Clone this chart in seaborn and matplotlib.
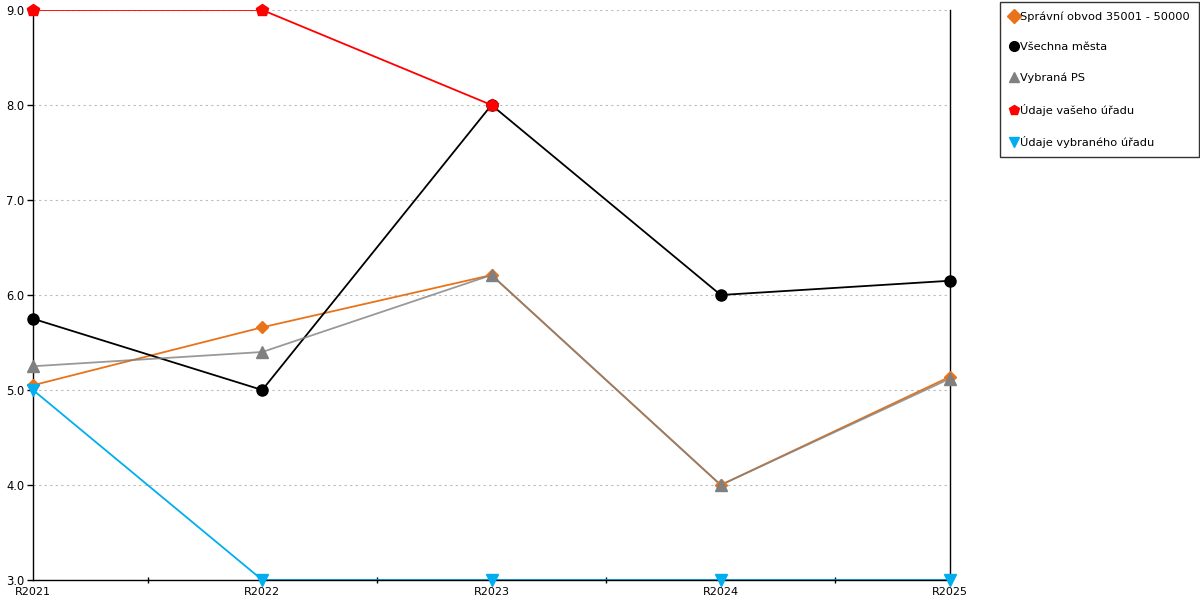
import pandas as pd
import seaborn as sns
import matplotlib.pyplot as plt
from matplotlib.lines import Line2D
from matplotlib.ticker import FixedLocator

# Data
roky = ['R2021', 'R2022', 'R2023', 'R2024', 'R2025']
spravni_obvod = [5.05, 5.66, 6.21, 4.0, 5.14]
vsechna_mesta = [5.75, 5.0, 8.0, 6.0, 6.15]
vybrana_ps = [5.25, 5.4, 6.21, 4.0, 5.12]
vas_urad = [9.0, 9.0, 8.0, None, None]
vybrany_urad = [5.0, 3.0, 3.0, 3.0, 3.0]

series = [
    ('Správní obvod 35001 - 50000', spravni_obvod, '#E8731A', 'D', 6, 1.0),
    ('Všechna města', vsechna_mesta, '#000000', 'o', 8, 1.0),
    ('Vybraná PS', vybrana_ps, '#808080', '^', 8, 0.8),
    ('Údaje vašeho úřadu', vas_urad, '#FF0000', 'p', 9, 1.0),
    ('Údaje vybraného úřadu', vybrany_urad, '#00AEEF', 'v', 8, 1.0),
]

sns.set_style('white')
plt.rcParams['font.family'] = ['DejaVu Sans']

fig = plt.figure(figsize=(12, 6), dpi=100)
ax = fig.add_axes([33 / 1200, 20 / 600, 917 / 1200, 570 / 600])

handles = []
for name, vals, col, mk, ms, alpha in series:
    df = pd.DataFrame({'x': range(len(roky)), 'y': vals}).dropna()
    sns.lineplot(data=df, x='x', y='y', ax=ax, color=col, linewidth=1.3,
                 alpha=alpha, legend=False)
    ax.plot(df['x'], df['y'], linestyle='none', marker=mk, markersize=ms,
            color=col, markeredgecolor=col, zorder=5, clip_on=False)
    handles.append(Line2D([], [], linestyle='none', marker=mk, markersize=7,
                          color=col, label=name))

ax.set_xlim(0, 4)
ax.set_ylim(3, 9)
ax.set_yticks([3, 4, 5, 6, 7, 8, 9])
ax.set_yticklabels(['3.0', '4.0', '5.0', '6.0', '7.0', '8.0', '9.0'])
ax.set_xticks(range(len(roky)))
ax.set_xticklabels(roky)
ax.xaxis.set_minor_locator(FixedLocator([0.5, 1.5, 2.5, 3.5]))
ax.tick_params(axis='x', which='major', bottom=True, length=0, pad=5,
               labelsize=8, labelcolor='black')
ax.tick_params(axis='x', which='minor', bottom=True, length=5, width=1,
               color='black', direction='inout')
ax.tick_params(axis='y', left=True, length=4, width=1, color='black', pad=2,
               labelsize=8.3, labelcolor='black')
ax.set_xlabel('')
ax.set_ylabel('')

ax.grid(axis='y', linestyle=(0, (2, 3)), color='#BBBBBB', linewidth=0.8)
ax.grid(axis='x', visible=False)
for s in ['left', 'bottom', 'right']:
    ax.spines[s].set_visible(True)
    ax.spines[s].set_color('black')
    ax.spines[s].set_linewidth(1)
ax.spines['top'].set_visible(False)

leg = fig.legend(handles=handles, loc='upper right',
                 bbox_to_anchor=(1199 / 1200, 598 / 600),
                 frameon=True, fancybox=False, edgecolor='black', fontsize=8.2,
                 labelspacing=1.8, handletextpad=0.15, handlelength=0.8,
                 borderpad=0.8, borderaxespad=0)
leg.get_frame().set_linewidth(1)
for t in leg.get_texts():
    t.set_color('black')

fig.savefig('out.png', dpi=100)
